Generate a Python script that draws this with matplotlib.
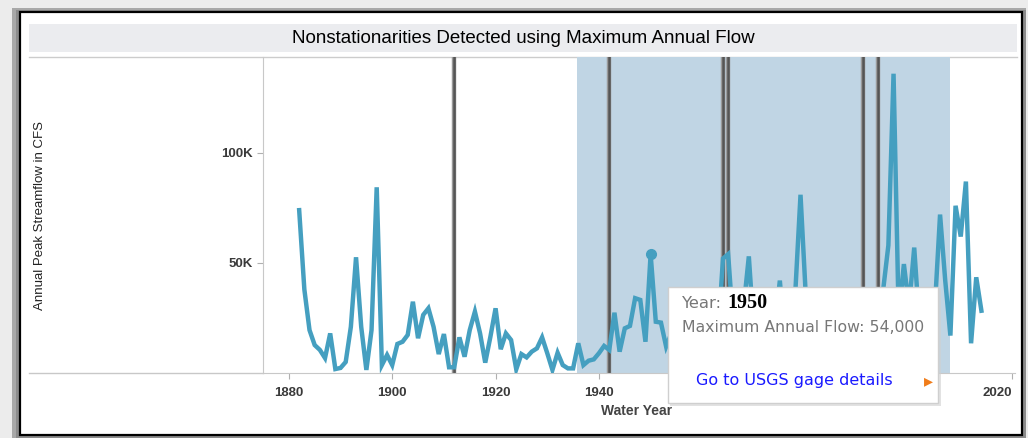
import matplotlib
matplotlib.use("Agg")
import matplotlib.pyplot as plt
from matplotlib.patches import Rectangle
from matplotlib.ticker import FuncFormatter

# annual peak flow (cfs), water years 1882-2014
years = list(range(1882, 2015))
peak_flow = [
    74000, 38000, 19500, 12700, 10500, 6800, 18000, 1800, 2300, 5000,        # 1882-1891
    21000, 52600, 21000, 1400, 19500, 84400, 3600, 8200, 3600, 13200,        # 1892-1901
    14200, 17300, 32400, 15800, 26400, 29400, 21000, 8600, 17700, 2600,      # 1902-1911
    2600, 16200, 7400, 19500, 27900, 18000, 4700, 16500, 29400, 10800,       # 1912-1921
    18000, 15000, 1700, 8600, 7100, 9700, 11200, 16200, 9000, 1400,          # 1922-1931
    9200, 3600, 2100, 2100, 13500, 3600, 5600, 6200, 9000, 12300,            # 1932-1941
    10500, 27400, 9700, 20300, 21400, 34000, 33200, 14200, 54000, 23300,     # 1942-1951
    22900, 12000, 18000, 9000, 26000, 14000, 31000, 11000, 20000, 8000,      # 1952-1961
    24000, 16000, 52000, 54000, 21000, 14000, 30000, 53000, 18000, 25000,    # 1962-1971
    12000, 33000, 20000, 42000, 15000, 10000, 37000, 81000, 36000, 28000,    # 1972-1981
    13000, 35000, 22000, 30000, 17000, 9000, 24000, 15000, 27000, 11000,     # 1982-1991
    20000, 31000, 14000, 38000, 58000, 136000, 25000, 49500, 30000, 57000,   # 1992-2001
    22000, 35000, 18000, 30000, 72000, 42000, 17000, 76000, 62000, 87000,    # 2002-2011
    13500, 43500, 28300,                                                     # 2012-2014
]

change_years = [1912, 1942, 1964, 1965, 1991, 1994]
shaded_period = (1935.7, 2007.9)
hover_year = 1950
hover_flow = 54000

LINE_COLOR = "#459fc0"
SHADE_COLOR = "#c0d5e4"
W, H = 1028, 438


def px_axes(fig, left, top, right, bottom):
    return fig.add_axes([left / W, 1 - bottom / H, (right - left) / W, (bottom - top) / H])


def main():
    fig = plt.figure(figsize=(W / 100, H / 100), dpi=100)
    fig.patch.set_facecolor("#ececec")

    # background frame with drop shadow
    bg = fig.add_axes([0, 0, 1, 1])
    bg.set_xlim(0, W)
    bg.set_ylim(H, 0)
    bg.axis("off")
    bg.add_patch(Rectangle((12, 8), 1014, 430, facecolor="#a8a8a8", edgecolor="none"))
    bg.add_patch(Rectangle((16, 10), 1010, 428, facecolor="#8c8c8c", edgecolor="none"))
    bg.add_patch(Rectangle((20, 12), 1002, 423, facecolor="white", edgecolor="black", lw=1.6))
    bg.add_patch(Rectangle((29, 24), 988, 28, facecolor="#ebecef", edgecolor="none"))
    bg.text(523, 38.5, "Nonstationarities Detected using Maximum Annual Flow",
            ha="center", va="center", fontsize=13.5, family="Liberation Sans", color="black")
    bg.plot([29, 1017], [57, 57], color="#cccccc", lw=1)
    bg.plot([29, 263], [373, 373], color="#c8c8c8", lw=1)
    bg.text(40, 215, "Annual Peak Streamflow in CFS", rotation=90, ha="center", va="center",
            fontsize=9.5, family="Liberation Sans", color="#222222")
    bg.text(637, 411, "Water Year", ha="center", va="center", fontsize=10,
            family="Liberation Sans", fontweight="bold", color="#444444")

    ax = px_axes(fig, 263, 57, 1015, 373)
    ax.set_facecolor("none")
    ax.axvspan(*shaded_period, color=SHADE_COLOR, lw=0, zorder=0)
    for yr in change_years:
        ax.axvline(yr, color="#9a9a9a", lw=3.2, zorder=1)
        ax.axvline(yr, color="#555555", lw=1.8, zorder=1)
    ax.plot(years, peak_flow, color=LINE_COLOR, lw=3.2, solid_joinstyle="miter", zorder=3)
    ax.plot([hover_year], [hover_flow], "o", color=LINE_COLOR, ms=7, zorder=4)

    ax.set_xlim(1875, 2020.5)
    ax.set_ylim(0, 143600)
    ax.set_xticks(range(1880, 2021, 20))
    ax.set_yticks([50000, 100000])
    ax.yaxis.set_major_formatter(FuncFormatter(lambda v, p: f"{int(v / 1000)}K"))
    for s in ["top", "right"]:
        ax.spines[s].set_visible(False)
    for s in ["left", "bottom"]:
        ax.spines[s].set_color("#c8c8c8")
    ax.tick_params(axis="both", length=4, color="#b0b0b0", labelcolor="#3a3a3a", labelsize=9.5)
    for lbl in ax.get_xticklabels() + ax.get_yticklabels():
        lbl.set_family("Liberation Sans")
        lbl.set_fontweight("bold")
    ax.get_xticklabels()[-1].set_ha("right")
    ax.tick_params(axis="x", pad=6)

    # hover tooltip
    tip = fig.add_axes([0, 0, 1, 1])
    tip.set_xlim(0, W)
    tip.set_ylim(H, 0)
    tip.axis("off")
    tip.patch.set_alpha(0)
    tip.add_patch(Rectangle((670, 289), 271, 117, facecolor="#d0d0d0", edgecolor="none", alpha=0.6))
    tip.add_patch(Rectangle((668, 287), 270, 116, facecolor="white", edgecolor="#cfcfcf", lw=1))
    tip.text(682, 304, "Year:", ha="left", va="center", fontsize=11.8, family="DejaVu Sans", color="#777777")
    tip.text(727, 303, str(hover_year), ha="left", va="center", fontsize=14.5, family="Liberation Serif",
             fontweight="bold", color="black")
    tip.text(682, 327, f"Maximum Annual Flow: {hover_flow:,}", ha="left", va="center", fontsize=11.3,
             family="DejaVu Sans", color="#777777")
    tip.text(696, 381, "Go to USGS gage details", ha="left", va="center", fontsize=11.5,
             family="DejaVu Sans", color="#1a1aff")
    tip.text(928, 381, "\u25b8", ha="center", va="center", fontsize=13, family="DejaVu Sans", color="#f07c1a")

    fig.savefig("out.png", dpi=100)


if __name__ == "__main__":
    main()
